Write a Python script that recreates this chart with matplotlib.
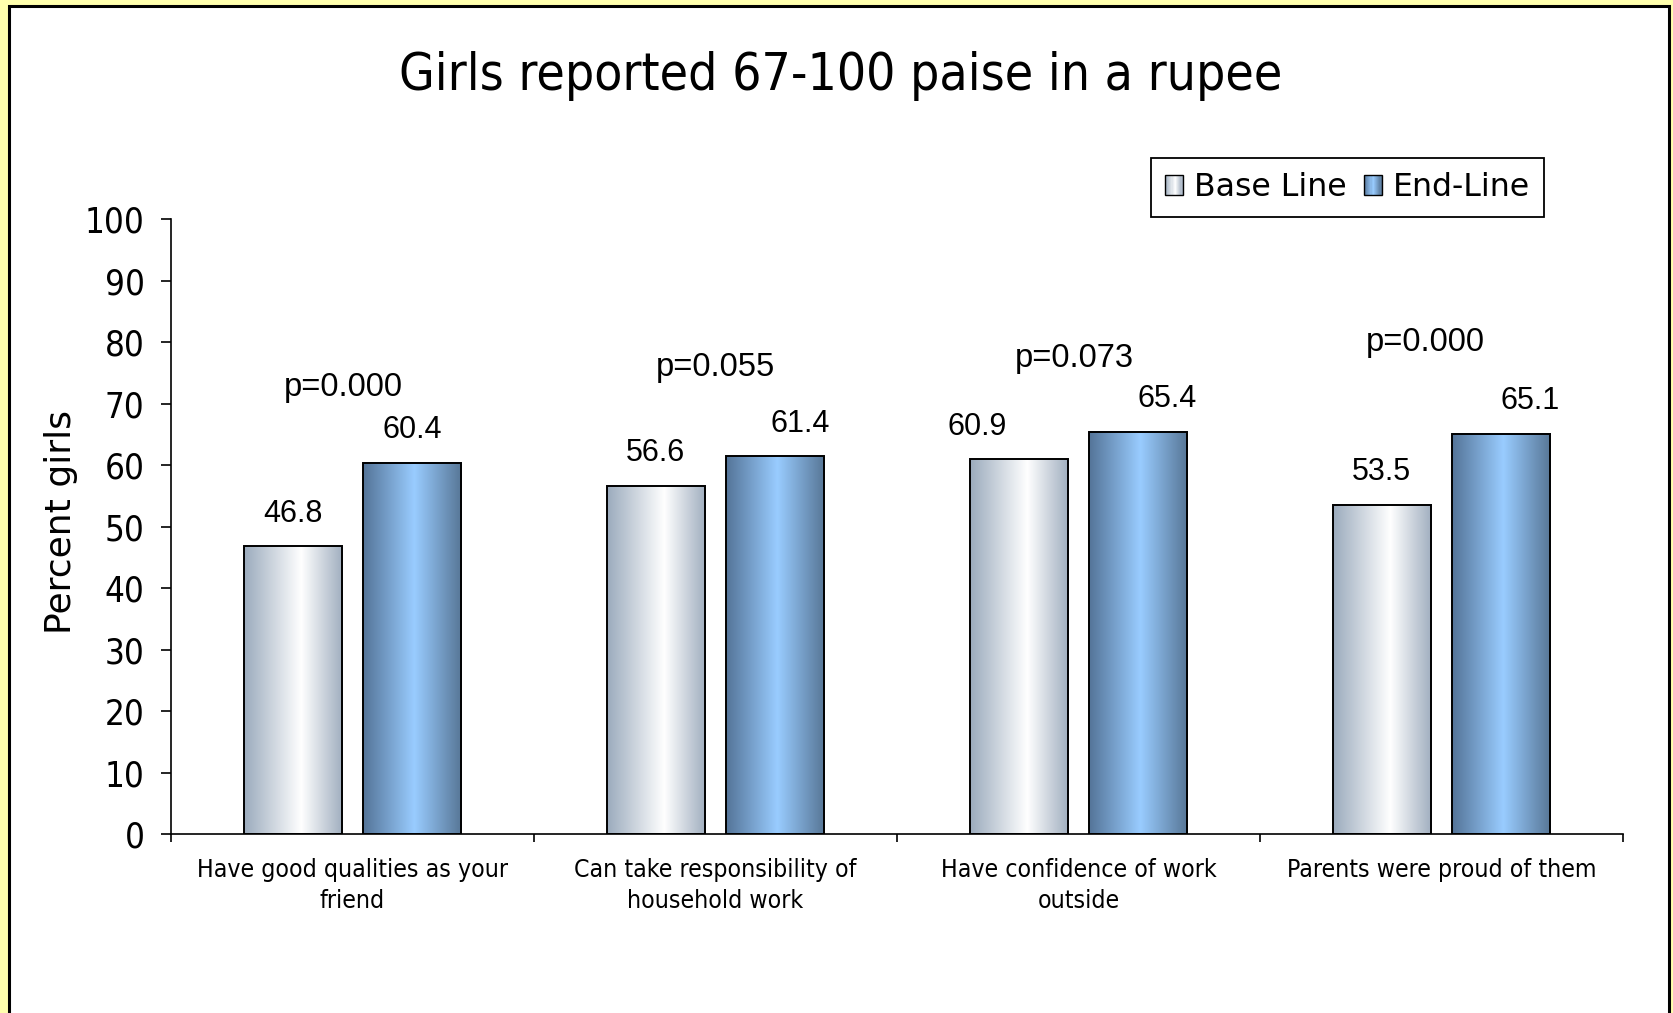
import numpy as np
import matplotlib
matplotlib.use("Agg")
import matplotlib.pyplot as plt
from matplotlib.patches import Rectangle
from matplotlib.colors import LinearSegmentedColormap
from matplotlib.legend_handler import HandlerBase

# ---------------- data ----------------
categories = ["Have good qualities as your\nfriend",
              "Can take responsibility of\nhousehold work",
              "Have confidence of work\noutside",
              "Parents were proud of them"]
baseline = [46.8, 56.6, 60.9, 53.5]
endline = [60.4, 61.4, 65.4, 65.1]
series_names = ["Base Line", "End-Line"]
p_values = ["p=0.000", "p=0.055", "p=0.073", "p=0.000"]
p_label_y = [72.6, 75.9, 77.3, 79.9]
yticks = list(range(0, 101, 10))
title = "Girls reported 67-100 paise in a rupee"
ylabel = "Percent girls"

# label nudges in pixels (style only)
base_nudge = [0, 0, -41, 0]
end_nudge = [0, 25, 29, 29]
p_nudge = [-9, 0, -4, -16]

# ---------------- style ----------------
W, H, DPI = 1673, 1013, 100
COND = dict(family="DejaVu Sans", fontstretch="condensed")
base_cmap = LinearSegmentedColormap.from_list(
    "base", [(0, "#9BABBD"), (0.58, "#FFFFFF"), (1, "#A0AEBF")])
end_cmap = LinearSegmentedColormap.from_list(
    "end", [(0, "#547498"), (0.52, "#99CCFF"), (1, "#577696")])

fig = plt.figure(figsize=(W / DPI, H / DPI), dpi=DPI, facecolor="#FFFFAD")
# white panel with black border
fig.patches.append(Rectangle((9 / W, -0.05), (1669 - 9) / W, 1.05 - 6 / H,
                             transform=fig.transFigure, facecolor="white",
                             edgecolor="black", lw=2.2, zorder=-10))

ax = fig.add_axes([171 / W, 1 - 834 / H, (1623 - 171) / W, (834 - 219) / H])
ax.set_facecolor("none")
ax.set_zorder(5)

x = np.arange(len(categories))
w = 0.27
off = 0.165
bars_b = ax.bar(x - off, baseline, w, facecolor="none", edgecolor="black",
                lw=1.4, zorder=3)
bars_e = ax.bar(x + off, endline, w, facecolor="none", edgecolor="black",
                lw=1.4, zorder=3)

grad = np.linspace(0, 1, 256).reshape(1, -1)
for bars, cmap in ((bars_b, base_cmap), (bars_e, end_cmap)):
    for r in bars:
        x0, y0 = r.get_x(), r.get_y()
        ax.imshow(grad, cmap=cmap, aspect="auto", interpolation="bilinear",
                  extent=(x0, x0 + r.get_width(), y0, y0 + r.get_height()),
                  zorder=2)

ax.set_xlim(-0.5, len(categories) - 0.5)
ax.set_ylim(0, 100)

# value labels
for bars, vals, nudges in ((bars_b, baseline, base_nudge),
                           (bars_e, endline, end_nudge)):
    for r, v, n in zip(bars, vals, nudges):
        ax.annotate(f"{v:.1f}", (r.get_x() + r.get_width() / 2, v),
                    xytext=(n * 0.72, 23.5), textcoords="offset points",
                    ha="center", va="center", fontsize=22,
                    family="Liberation Sans")

# p-values
for i, (t, py, n) in enumerate(zip(p_values, p_label_y, p_nudge)):
    ax.annotate(t, (i, py), xytext=(n * 0.72, 0), textcoords="offset points",
                ha="center", va="center", fontsize=23.5,
                family="Liberation Sans")

# axes styling
for s in ("top", "right"):
    ax.spines[s].set_visible(False)
for s in ("left", "bottom"):
    ax.spines[s].set_linewidth(1.2)
    ax.spines[s].set_color("black")

ax.set_yticks(yticks)
ax.set_yticklabels([str(t) for t in yticks], fontsize=25, **COND)
ax.tick_params(axis="y", direction="out", length=7, width=1.2, pad=12)

ax.set_xticks(x)
ax.set_xticklabels(categories, fontsize=17.8, linespacing=1.38, **COND)
ax.set_xticks(np.arange(-0.5, len(categories), 1.0), minor=True)
ax.tick_params(axis="x", which="major", length=0, pad=17)
ax.tick_params(axis="x", which="minor", direction="out", length=6, width=1.2)

ax.set_ylabel(ylabel, fontsize=26, family="DejaVu Sans")
ax.yaxis.set_label_coords(-0.076, 0.508)
ax.yaxis.label.set_va("center")

fig.text(841 / W, 1 - 76 / H, title, ha="center", va="center",
         fontsize=37, **COND)


class GradHandler(HandlerBase):
    def __init__(self, cmap):
        super().__init__()
        self.cmap = cmap

    def create_artists(self, legend, orig_handle, xdescent, ydescent,
                       width, height, fontsize, trans):
        arts = []
        n = 16
        for i in range(n):
            arts.append(Rectangle((-xdescent + width * i / n, -ydescent),
                                  width / n, height,
                                  facecolor=self.cmap((i + 0.5) / n),
                                  edgecolor="none", transform=trans))
        arts.append(Rectangle((-xdescent, -ydescent), width, height,
                              facecolor="none", edgecolor="black", lw=1.0,
                              transform=trans))
        return arts


h1 = Rectangle((0, 0), 1, 1)
h2 = Rectangle((0, 0), 1, 1)
leg = ax.legend([h1, h2], series_names, ncol=2, loc="upper right",
                bbox_to_anchor=((1544 - 171) / 1452, (834 - 158) / 615),
                borderaxespad=0, fancybox=False, framealpha=1,
                edgecolor="black", handlelength=0.57, handleheight=0.57,
                handletextpad=0.35, columnspacing=0.55, borderpad=0.45,
                prop=dict(family="DejaVu Sans", size=22.7),
                handler_map={h1: GradHandler(base_cmap),
                             h2: GradHandler(end_cmap)})
leg.get_frame().set_linewidth(1.3)

fig.savefig("out.png", dpi=DPI, facecolor=fig.get_facecolor())
